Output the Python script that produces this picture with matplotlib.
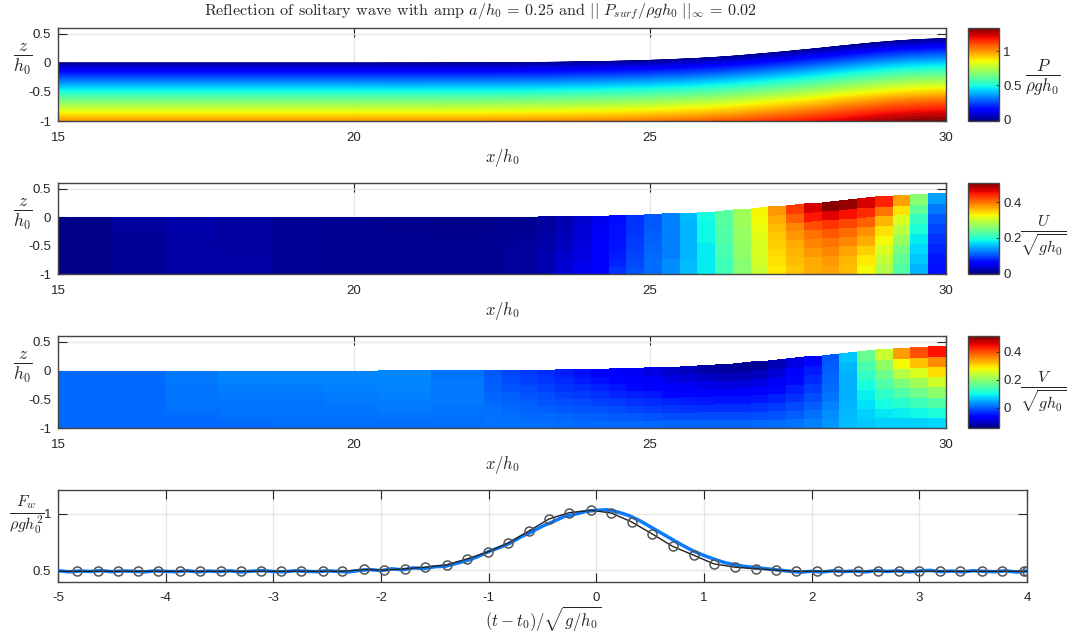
import numpy as np
import matplotlib
matplotlib.use('Agg')
import matplotlib.pyplot as plt

W, H = 1070, 635

# column edges of the plotted mesh
x_edges = [15, 15.9, 16.8, 17.7, 18.6, 19.5, 20.4, 21.3, 22.2, 22.5, 22.8, 23.1, 23.4, 23.7, 24.0,
           24.3, 24.6, 24.9, 25.2, 25.5, 25.8, 26.1, 26.4, 26.7, 27.0, 27.3, 27.6, 27.9, 28.2,
           28.5, 28.8, 29.1, 29.4, 29.7, 30]
# free surface height at those edges
eta = [0, 0, 0, 0, 0, 0, 0, 0.001, 0.004, 0.005, 0.007, 0.010, 0.013, 0.018, 0.023,
       0.028, 0.035, 0.043, 0.053, 0.066, 0.080, 0.097, 0.118, 0.143, 0.170, 0.197, 0.227, 0.257, 0.290,
       0.320, 0.350, 0.375, 0.395, 0.410, 0.420]

# pressure at the edges, from the bed (p_0) up to the surface (p_4)
p_0 = [1.0, 1.0, 1.0, 1.0, 1.0, 1.0, 1.0, 1.0, 1.0, 1.005, 1.006, 1.01, 1.012, 1.016, 1.02,
       1.025, 1.03, 1.04, 1.05, 1.06, 1.07, 1.09, 1.10, 1.12, 1.14, 1.16, 1.18, 1.21, 1.23,
       1.26, 1.29, 1.31, 1.33, 1.34, 1.34]
p_1 = [0.75, 0.75, 0.75, 0.75, 0.75, 0.75, 0.75, 0.75, 0.75, 0.755, 0.755, 0.76, 0.76, 0.765, 0.77,
       0.77, 0.78, 0.78, 0.79, 0.80, 0.81, 0.82, 0.84, 0.86, 0.88, 0.90, 0.92, 0.94, 0.97,
       0.99, 1.01, 1.03, 1.04, 1.05, 1.06]
p_2 = [0.5, 0.5, 0.5, 0.5, 0.5, 0.5, 0.5, 0.5, 0.5, 0.5, 0.5, 0.505, 0.505, 0.51, 0.51,
       0.515, 0.52, 0.52, 0.53, 0.53, 0.54, 0.55, 0.56, 0.57, 0.585, 0.60, 0.61, 0.63, 0.645,
       0.66, 0.675, 0.69, 0.70, 0.705, 0.71]
p_3 = [0.25, 0.25, 0.25, 0.25, 0.25, 0.25, 0.25, 0.25, 0.25, 0.25, 0.25, 0.25, 0.25, 0.255, 0.255,
       0.257, 0.26, 0.26, 0.265, 0.265, 0.27, 0.275, 0.28, 0.285, 0.29, 0.30, 0.305, 0.315, 0.32,
       0.33, 0.34, 0.345, 0.35, 0.352, 0.355]
p_4 = [0] * 35

# U cells, one row per column, bed to surface
u_cells = [
    [.001, .001, .001, .001, .001, .001, .001, .001],
    [.006, .006, .006, .006, .006, .006, .010, .010],
    [.012, .012, .012, .012, .012, .014, .014, .014],
    [.012, .012, .012, .011, .011, .011, .010, .010],
    [.006, .006, .006, .006, .006, .006, .006, .006],
    [.005, .005, .005, .005, .005, .005, .005, .004],
    [.004, .004, .004, .004, .004, .004, .003, .002],
    [.004, .004, .004, .004, .004, .003, .002, .001],
    [.004, .004, .004, .004, .004, .004, .003, .002],
    [.008, .008, .008, .008, .006, .005, .004, .003],
    [.010, .010, .010, .008, .008, .006, .004, .004],
    [.019, .019, .018, .016, .014, .012, .010, .010],
    [.034, .034, .030, .026, .024, .020, .019, .019],
    [.046, .044, .040, .038, .036, .034, .034, .030],
    [.056, .054, .053, .052, .052, .050, .048, .046],
    [.085, .077, .072, .070, .068, .066, .066, .064],
    [.100, .097, .095, .090, .088, .086, .085, .085],
    [.115, .114, .112, .110, .108, .106, .105, .105],
    [.130, .130, .125, .125, .125, .125, .125, .125],
    [.155, .155, .150, .150, .150, .150, .150, .155],
    [.180, .180, .180, .180, .185, .185, .185, .190],
    [.215, .215, .220, .220, .225, .225, .230, .230],
    [.260, .260, .265, .265, .270, .270, .275, .275],
    [.300, .305, .310, .310, .315, .320, .325, .330],
    [.335, .340, .345, .350, .355, .360, .370, .380],
    [.355, .360, .365, .370, .380, .390, .410, .430],
    [.370, .370, .380, .390, .400, .420, .450, .470],
    [.375, .380, .390, .400, .415, .435, .465, .505],
    [.360, .365, .375, .390, .405, .425, .455, .500],
    [.325, .335, .350, .370, .385, .410, .440, .470],
    [.285, .295, .310, .325, .340, .365, .400, .445],
    [.225, .235, .250, .270, .290, .310, .340, .375],
    [.150, .160, .170, .180, .195, .210, .235, .260],
    [.066, .070, .078, .085, .095, .105, .120, .140],
]

# V cells, same layout
v_cells = [
    [.008, .008, .008, .008, .008, .008, .008, .008],
    [.008, .008, .008, .008, .008, .008, .008, .008],
    [.008, .008, .012, .014, .016, .016, .018, .018],
    [.008, .012, .014, .016, .018, .020, .022, .024],
    [.010, .012, .014, .016, .018, .020, .024, .024],
    [.010, .012, .014, .018, .020, .022, .024, .026],
    [.010, .014, .018, .020, .022, .024, .026, .028],
    [.010, .012, .016, .018, .018, .018, .018, .016],
    [.012, .014, .012, .008, .004, .002, .000, -.004],
    [.012, .012, .008, .004, .000, -.006, -.010, -.016],
    [.012, .008, .004, .000, -.006, -.012, -.018, -.024],
    [.012, .006, .000, -.006, -.012, -.018, -.026, -.032],
    [.010, .004, -.004, -.012, -.018, -.026, -.034, -.042],
    [.008, .002, -.006, -.014, -.024, -.034, -.044, -.052],
    [.008, .000, -.008, -.018, -.030, -.040, -.052, -.062],
    [.006, -.002, -.012, -.024, -.036, -.048, -.060, -.070],
    [.006, -.004, -.016, -.030, -.042, -.056, -.066, -.076],
    [.006, -.006, -.020, -.034, -.048, -.062, -.072, -.086],
    [.004, -.010, -.026, -.040, -.056, -.070, -.084, -.098],
    [.004, -.012, -.028, -.044, -.060, -.076, -.092, -.106],
    [.004, -.014, -.032, -.048, -.064, -.082, -.100, -.118],
    [.004, -.014, -.032, -.050, -.068, -.086, -.108, -.124],
    [.004, -.014, -.032, -.050, -.068, -.088, -.110, -.130],
    [.008, -.012, -.030, -.048, -.066, -.086, -.106, -.128],
    [.010, -.008, -.024, -.040, -.056, -.074, -.094, -.112],
    [.014, .000, -.014, -.028, -.042, -.056, -.070, -.085],
    [.022, .012, .000, -.012, -.024, -.034, -.044, -.056],
    [.036, .030, .022, .016, .010, .004, .000, -.004],
    [.060, .058, .055, .054, .053, .054, .058, .065],
    [.070, .075, .085, .095, .105, .125, .145, .170],
    [.075, .090, .105, .125, .150, .175, .205, .245],
    [.075, .095, .120, .150, .185, .230, .280, .345],
    [.075, .100, .135, .175, .215, .260, .320, .400],
    [.080, .110, .150, .200, .250, .300, .360, .440],
]

# wall force: model curve with circles
force_t = [-5, -4.82, -4.63, -4.44, -4.26, -4.07, -3.87, -3.68, -3.49, -3.30, -3.11, -2.93, -2.74, -2.54,
           -2.36, -2.16, -1.97, -1.78, -1.59, -1.39, -1.20, -1.01, -0.82, -0.63, -0.44, -0.25, -0.05,
           0.14, 0.33, 0.52, 0.71, 0.91, 1.09, 1.29, 1.48, 1.67, 1.85, 2.05, 2.24, 2.43, 2.62, 2.81,
           3.00, 3.19, 3.38, 3.58, 3.77, 3.97, 4]
force_y = [.49, .49, .49, .49, .49, .49, .49, .49, .49, .49, .49, .49, .49, .49,
           .49, .506, .50, .512, .526, .547, .60, .66, .74, .845, .953, 1.01, 1.03,
           1.006, .926, .82, .71, .63, .556, .526, .512, .50, .49, .49, .49, .49, .49, .49,
           .49, .49, .49, .49, .49, .49, .49]

# wall force: measured curve
meas_t = [-5, -4.9, -4.8, -4.7, -4.6, -4.5, -4.4, -4.3, -4.2, -4.1, -4, -3.9, -3.8, -3.7, -3.6, -3.5, -3.4,
          -3.3, -3.2, -3.1, -3, -2.9, -2.8, -2.7, -2.6, -2.5, -2.4, -2.3, -2.2, -2.1, -2, -1.9, -1.8,
          -1.7, -1.6, -1.5, -1.4, -1.3, -1.2, -1.1, -1, -.9, -.8, -.7, -.6, -.5, -.4, -.3, -.2, -.1,
          0, .1, .2, .3, .4, .5, .6, .7, .8, .9, 1, 1.1, 1.2, 1.3, 1.4, 1.5, 1.6, 1.7, 1.8, 1.9,
          2, 2.1, 2.2, 2.3, 2.4, 2.5, 2.6, 2.7, 2.8, 2.9, 3, 3.1, 3.2, 3.3, 3.4, 3.5, 3.6, 3.7, 3.8, 3.9, 4]
meas_y = [.495, .485, .492, .488, .496, .486, .493, .49, .484, .494, .489, .486, .495, .484, .492, .487, .494,
          .483, .491, .496, .488, .485, .495, .49, .486, .494, .489, .484, .497, .505, .495, .512, .503,
          .52, .515, .53, .535, .56, .585, .62, .665, .70, .74, .795, .84, .89, .93, .975, .995, 1.02,
          1.03, 1.035, 1.015, .985, .94, .885, .83, .775, .72, .67, .63, .595, .565, .545, .53, .52, .51, .50, .49, .482,
          .49, .483, .495, .487, .492, .484, .496, .488, .494, .485, .493, .498, .487, .492, .484, .495, .489, .486, .494, .483, .492]

u_lim = (-0.005, 0.51)
v_lim = (-0.143, 0.514)
p_lim = (-0.02, 1.34)

plt.rcParams['font.family'] = ['Liberation Sans', 'DejaVu Sans']
plt.rcParams['mathtext.fontset'] = 'cm'
DARK = '#262626'
GRID = '#e6e6e6'
jet = plt.get_cmap('jet', 256)


def box(left, top, right, bottom):
    return [left / W, 1 - bottom / H, (right - left) / W, (bottom - top) / H]


def style_axes(ax, xticks, xlabels, yticks, ylabels, xpad):
    ax.set_xticks(xticks, xlabels)
    ax.set_yticks(yticks, ylabels)
    ax.grid(True, color=GRID, lw=1)
    ax.set_axisbelow(True)
    ax.tick_params(direction='in', length=6.5, width=0.8, color=DARK, labelcolor=DARK,
                   top=True, right=True, labelsize=9.5)
    ax.tick_params(axis='x', pad=xpad)
    ax.tick_params(axis='y', pad=5)
    for s in ax.spines.values():
        s.set_color('#444444')
        s.set_linewidth(1.0)


def field_axes(top, bottom):
    ax = fig.add_axes(box(58, top, 946, bottom))
    ax.set_xlim(15, 30)
    ax.set_ylim(-1, 0.6)
    style_axes(ax, [15, 20, 25, 30], ['15', '20', '25', '30'],
               [-1, -0.5, 0, 0.5], ['-1', '-0.5', '0', '0.5'], 8)
    fig.text(23 / W, 1 - (top + 31) / H, r'$\frac{z}{h_0}$', fontsize=18, color=DARK, ha='center', va='center')
    fig.text(502 / W, 1 - (bottom + 37) / H, r'$x/h_0$', fontsize=12, color=DARK, ha='center', va='center')
    return ax


def add_bar(top, bottom, lims, ticks, labels, text, text_x, text_y, text_size):
    cax = fig.add_axes(box(968, top, 999, bottom))
    sm = plt.cm.ScalarMappable(norm=plt.Normalize(*lims), cmap=jet)
    cb = fig.colorbar(sm, cax=cax)
    cb.set_ticks(ticks, labels=labels)
    cb.ax.tick_params(direction='in', length=2.5, width=0.6, color=DARK, labelcolor=DARK, labelsize=9.5, pad=3)
    cb.outline.set_edgecolor('#444444')
    cb.outline.set_linewidth(1.0)
    fig.text(text_x / W, 1 - text_y / H, text, fontsize=text_size, color=DARK, ha='center', va='center')


def mesh_from_cells(cells, lims, ax):
    # 8 rows between bed and surface
    cells = np.array(cells).T
    xs = np.array(x_edges)
    surf = np.array(eta)
    X = np.tile(xs, (9, 1))
    Z = np.array([-1 + k / 8 * (1 + surf) for k in range(9)])
    ax.pcolormesh(X, Z, cells, cmap=jet, vmin=lims[0], vmax=lims[1], shading='flat', zorder=1, rasterized=True)


fig = plt.figure(figsize=(W / 100, H / 100), dpi=100)

# pressure panel
ax1 = field_axes(28, 121)
xs = np.array(x_edges)
surf = np.array(eta)
P = np.array([p_0, p_1, p_2, p_3, p_4])
X = np.tile(xs, (5, 1))
Z = np.array([-1 + k / 4 * (1 + surf) for k in range(5)])
cs = ax1.contourf(X, Z, P, levels=np.linspace(p_lim[0], p_lim[1], 129), cmap=jet, zorder=1, antialiased=True)
cs.set_edgecolor('face')
cs.set_linewidth(0.4)
add_bar(28, 121, p_lim, [0, 0.5, 1], ['0', '0.5', '1'], r'$\frac{P}{\rho g h_0}$', 1043, 78, 17.5)

# horizontal velocity panel
ax2 = field_axes(183, 274)
mesh_from_cells(u_cells, u_lim, ax2)
add_bar(183, 274, u_lim, [0, 0.2, 0.4], ['0', '0.2', '0.4'], r'$\frac{U}{\sqrt{gh_0}}$', 1043, 236, 16.5)

# vertical velocity panel
ax3 = field_axes(336, 428)
mesh_from_cells(v_cells, v_lim, ax3)
add_bar(336, 428, v_lim, [0, 0.2, 0.4], ['0', '0.2', '0.4'], r'$\frac{V}{\sqrt{gh_0}}$', 1043, 392, 16.5)

# wall force panel
ax4 = fig.add_axes(box(58, 490, 1027, 582))
ax4.plot(meas_t, meas_y, color='#0a7bff', lw=2.5, zorder=3)
ax4.plot(force_t, force_y, color='#222222', lw=1.0, marker='o', ms=6.5, mfc='none', mec='#555555',
         mew=1.1, markevery=(1, 1), zorder=4)
ax4.set_xlim(-5, 4)
ax4.set_ylim(0.395, 1.21)
style_axes(ax4, list(range(-5, 5)), [str(v) for v in range(-5, 5)], [0.5, 1], ['0.5', '1'], 7)
fig.text(27 / W, 1 - 515 / H, r'$\frac{F_w}{\rho g h_0^2}$', fontsize=16.5, color=DARK, ha='center', va='center')
fig.text(543 / W, 1 - 619 / H, r'$(t-t_0)/\sqrt{g/h_0}$', fontsize=12, color=DARK, ha='center', va='center')

fig.text(480 / W, 1 - 12 / H,
         r'Reflection of solitary wave with amp $a/h_0$ = 0.25 and $||\ P_{surf}/\rho g h_0\ ||_{\infty}$ = 0.02',
         family='cmr10', fontsize=11.6, color=DARK, ha='center', va='center')

plt.savefig('out.png', dpi=100)
